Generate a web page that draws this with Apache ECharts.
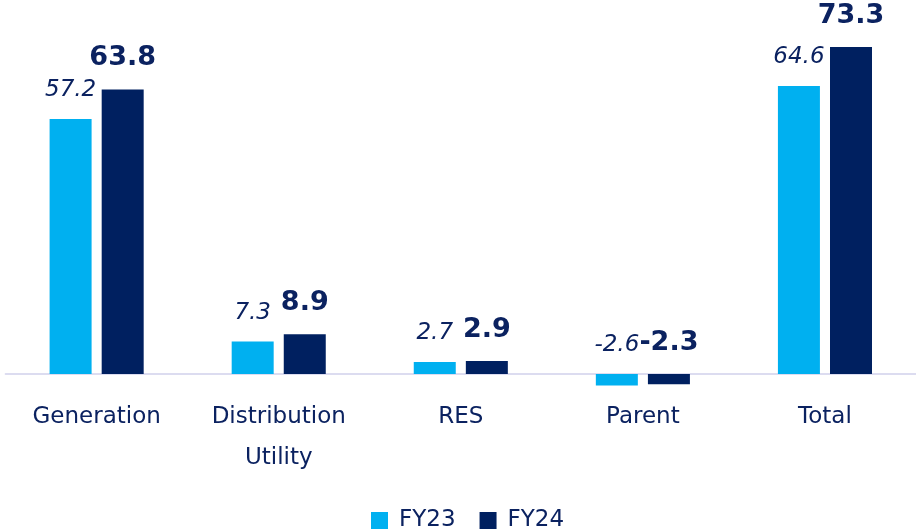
<!DOCTYPE html>
<html><head><meta charset="utf-8">
<script src="https://cdn.jsdelivr.net/npm/echarts@6/dist/echarts.min.js"></script>
<style>html,body{margin:0;padding:0;background:#fff}#c{width:916px;height:532px}</style>
</head><body><div id="c"></div>
<script>
var categories = ['Generation', 'Distribution\nUtility', 'RES', 'Parent', 'Total'];
var fy23 = [57.2, 7.3, 2.7, -2.6, 64.6];
var fy24 = [63.8, 8.9, 2.9, -2.3, 73.3];
var seriesNames = ['FY23', 'FY24'];

var FONT = '"DejaVu Sans", "Noto Sans", sans-serif';
var NAVY = '#0b2260';
var chart = echarts.init(document.getElementById('c'), null, {renderer: 'canvas'});
chart.setOption({
  animation: false,
  textStyle: {fontFamily: FONT},
  grid: {left: 5.6, width: 913.75, top: 17.2, height: 370.2, containLabel: false},
  legend: {
    top: 509, left: 371, itemWidth: 17, itemHeight: 17, itemGap: 24,
    icon: 'rect', padding: 0,
    textStyle: {fontSize: 23, color: NAVY, fontFamily: FONT, padding: [0, 0, 0, 6]},
    data: seriesNames
  },
  xAxis: {
    type: 'category', data: categories,
    axisLine: {show: true, onZero: true, lineStyle: {color: '#dcdcf0', width: 2}},
    axisTick: {show: false},
    axisLabel: {interval: 0, fontSize: 23, color: NAVY, margin: 9, lineHeight: 41, fontFamily: FONT}
  },
  yAxis: {type: 'value', min: -3, max: 80, show: false, splitLine: {show: false}},
  series: [
    {
      name: seriesNames[0], type: 'bar', data: fy23, barWidth: 42, barGap: '24%',
      itemStyle: {color: '#00B0F0'},
      label: {show: true, position: 'top', distance: 17, fontSize: 23, fontStyle: 'italic',
        color: NAVY, fontFamily: FONT,
        formatter: function (p) { return p.value.toFixed(1); }}
    },
    {
      name: seriesNames[1], type: 'bar', data: fy24, barWidth: 42,
      itemStyle: {color: '#002060'},
      label: {show: true, position: 'top', distance: 18, fontSize: 27, fontWeight: 'bold',
        color: NAVY, fontFamily: FONT,
        formatter: function (p) { return p.value.toFixed(1); }}
    }
  ]
});
</script></body></html>
